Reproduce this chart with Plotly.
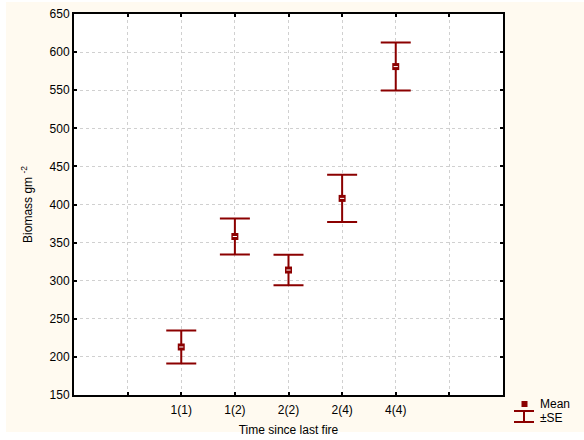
import plotly.graph_objects as go

categories = ["1(1)", "1(2)", "2(2)", "2(4)", "4(4)"]
cat_pos = [2, 3, 4, 5, 6]
means = [213, 358, 314, 408, 581]
se = [21.5, 23.5, 20, 31, 31.5]
y_ticks = [150, 200, 250, 300, 350, 400, 450, 500, 550, 600, 650]

RED = "#8B0000"
CREAM = "#FFFAF0"
W, H = 584, 440
L, R, T, B = 74, 81, 14, 45
pw, ph = W - L - R, H - T - B
FONT = "Liberation Sans, Arial"

def px(x):
    return (x - L) / pw

def py(y):
    return 1 - (y - T) / ph

fig = go.Figure()
fig.add_trace(go.Scatter(
    x=cat_pos, y=means, mode="markers",
    marker=dict(symbol="square", size=7, color=RED, line=dict(width=0)),
    error_y=dict(type="data", array=se, visible=True, color=RED, thickness=2, width=15),
    showlegend=False, hoverinfo="skip"))
fig.add_trace(go.Scatter(
    x=cat_pos, y=means, mode="markers",
    marker=dict(symbol="line-ew", size=3, line=dict(color="white", width=1)),
    showlegend=False, hoverinfo="skip"))

axis_common = dict(showline=True, linecolor="black", linewidth=2, mirror="ticks",
                   ticks="inside", ticklen=3, tickcolor="black", tickwidth=2,
                   showgrid=True, gridcolor="#d0d0d0", griddash="dot", gridwidth=1,
                   zeroline=False, automargin=False,
                   tickfont=dict(family=FONT, size=12, color="black"))

fig.update_xaxes(range=[0, 8], tickmode="array", tickvals=list(range(0, 9)),
                 ticktext=["", ""] + categories + ["", ""], ticklabelstandoff=3,
                 title=dict(text="Time since last fire", standoff=9,
                            font=dict(family=FONT, size=12, color="black")),
                 **axis_common)
fig.update_yaxes(range=[150, 650], tickmode="array", tickvals=y_ticks,
                 title=dict(text="Biomass gm <sup>-2</sup>", standoff=14,
                            font=dict(family=FONT, size=12, color="black")),
                 **axis_common)

shapes = [
    dict(type="rect", xref="paper", yref="paper", layer="below",
         x0=px(6), x1=px(584), y0=py(432), y1=py(2), fillcolor=CREAM, line=dict(width=0)),
    dict(type="rect", xref="paper", yref="paper", layer="below",
         x0=0, x1=1, y0=0, y1=1, fillcolor="white", line=dict(width=0)),
    # legend Mean marker
    dict(type="rect", xref="paper", yref="paper",
         x0=px(521.5), x1=px(527.5), y0=py(407), y1=py(401), fillcolor=RED, line=dict(width=0)),
    # legend SE symbol
    dict(type="line", xref="paper", yref="paper", x0=px(514), x1=px(534), y0=py(411), y1=py(411),
         line=dict(color=RED, width=2)),
    dict(type="line", xref="paper", yref="paper", x0=px(514), x1=px(534), y0=py(422), y1=py(422),
         line=dict(color=RED, width=2)),
    dict(type="line", xref="paper", yref="paper", x0=px(524), x1=px(524), y0=py(411), y1=py(422),
         line=dict(color=RED, width=2)),
]
annotations = [
    dict(xref="paper", yref="paper", x=px(538), y=py(404), text="Mean", showarrow=False,
         xanchor="left", yanchor="middle", font=dict(family=FONT, size=12, color="black")),
    dict(xref="paper", yref="paper", x=px(538), y=py(418), text="±SE", showarrow=False,
         xanchor="left", yanchor="middle", font=dict(family=FONT, size=12, color="black")),
]

fig.update_layout(width=W, height=H, margin=dict(l=L, r=R, t=T, b=B),
                  paper_bgcolor="white", plot_bgcolor="white",
                  shapes=shapes, annotations=annotations, showlegend=False)

fig.write_html("out.html", config={"displayModeBar": False},
               post_script="document.body.style.margin='0';document.body.style.overflow='hidden';")
